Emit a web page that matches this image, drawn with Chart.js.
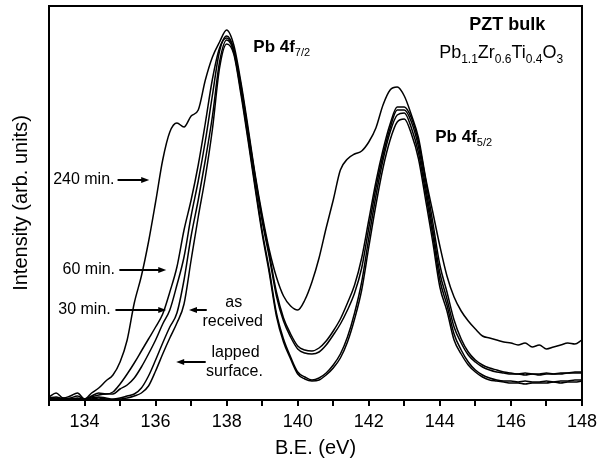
<!DOCTYPE html>
<html>
<head>
<meta charset="utf-8">
<script src="https://cdn.jsdelivr.net/npm/chart.js@4/dist/chart.umd.min.js"></script>
<style>
html, body { margin: 0; padding: 0; background: #fff; }
</style>
</head>
<body>
<canvas id="xps" width="602" height="462"></canvas>
<script>
var FONT = '"Liberation Sans", Arial, Helvetica, sans-serif';

// binding energy grid (eV)
var bindingEnergy = [
	133.0, 133.2, 133.4, 133.6, 133.8, 134.0, 134.2, 134.4, 134.6, 134.8,
	135.0, 135.2, 135.4, 135.6, 135.8, 136.0, 136.2, 136.4, 136.6, 136.8,
	137.0, 137.2, 137.4, 137.6, 137.8, 138.0, 138.2, 138.4, 138.6, 138.8,
	139.0, 139.2, 139.4, 139.6, 139.8, 140.0, 140.2, 140.4, 140.6, 140.8,
	141.0, 141.2, 141.4, 141.6, 141.8, 142.0, 142.2, 142.4, 142.6, 142.8,
	143.0, 143.2, 143.4, 143.6, 143.8, 144.0, 144.2, 144.4, 144.6, 144.8,
	145.0, 145.2, 145.4, 145.6, 145.8, 146.0, 146.2, 146.4, 146.6, 146.8,
	147.0, 147.2, 147.4, 147.6, 147.8, 148.0
];

// intensities (arb. units)
var sputter240 = [
	3, 7, 2, 4, 7, 1, 7, 12, 19, 25,
	38, 60, 97, 124, 158, 198, 240, 268, 277, 273,
	284, 290, 320, 343, 358, 370, 355, 318, 273, 226,
	185, 150, 123, 104, 94, 90, 100, 118, 142, 172,
	200, 230, 241, 246, 249, 258, 272, 295, 310, 313,
	304, 285, 262, 222, 188, 154, 124, 103, 89, 79,
	71, 64, 62, 60, 58, 57, 55, 57, 53, 55,
	51, 53, 55, 57, 56, 60
];
var sputter60 = [
	2, 3, 1, 2, 4, 1, 4, 7, 6, 8,
	16, 26, 37, 49, 61, 73, 86, 108, 133, 170,
	200, 235, 277, 321, 352, 362, 350, 315, 270, 224,
	182, 146, 108, 82, 66, 54, 50, 49, 52, 59,
	69, 81, 97, 115, 142, 180, 218, 250, 276, 293,
	293, 282, 258, 220, 178, 135, 108, 80, 61, 48,
	40, 35, 32, 30, 28, 27, 26, 27, 26, 26,
	27, 26, 27, 27, 28, 28
];
var sputter30 = [
	1, 2, 1, 1, 2, 0, 3, 5, 6, 6,
	11, 15, 22, 33, 46, 60, 76, 90, 115, 143,
	184, 219, 259, 305, 349, 364, 351, 313, 268, 222,
	179, 143, 104, 79, 63, 51, 47, 46, 48, 55,
	65, 76, 90, 107, 132, 172, 212, 245, 272, 290,
	290, 278, 253, 213, 171, 127, 101, 73, 57, 45,
	38, 33, 30, 28, 27, 26, 26, 25, 26, 25,
	26, 26, 26, 27, 27, 27
];
var asReceived = [
	1, 1, 2, 1, 1, 1, 2, 3, 2, 1,
	2, 4, 6, 12, 24, 40, 57, 73, 87, 120,
	164, 200, 240, 284, 338, 360, 348, 309, 263, 215,
	169, 130, 87, 61, 43, 28, 23, 20, 22, 27,
	35, 46, 63, 87, 118, 162, 204, 240, 268, 285,
	287, 272, 247, 207, 165, 120, 95, 66, 50, 38,
	30, 25, 22, 20, 19, 19, 18, 19, 18, 18,
	19, 18, 19, 19, 20, 20
];
var lappedSurface = [
	0, 1, 1, 0, 1, 0, 1, 2, 1, 0,
	1, 2, 4, 7, 14, 29, 46, 62, 77, 96,
	140, 183, 223, 271, 332, 356, 346, 306, 260, 212,
	166, 127, 84, 58, 41, 26, 21, 19, 20, 25,
	32, 42, 58, 81, 110, 153, 195, 232, 260, 278,
	281, 266, 241, 200, 158, 113, 89, 60, 46, 35,
	28, 23, 20, 19, 18, 17, 17, 16, 17, 17,
	17, 18, 17, 18, 18, 19
];

var seriesNames = ['240 min.', '60 min.', '30 min.', 'as received', 'lapped surface.'];
var seriesValues = [sputter240, sputter60, sputter30, asReceived, lappedSurface];

// annotation texts, in data units (eV, intensity)
var noteLabels = [
	{ text: '240 min.', x: 133.98, y: 220 },
	{ text: '60 min.', x: 134.12, y: 130 },
	{ text: '30 min.', x: 134.0, y: 90 },
	{ text: 'as', x: 138.2, y: 97 },
	{ text: 'received', x: 138.17, y: 78 },
	{ text: 'lapped', x: 138.25, y: 47 },
	{ text: 'surface.', x: 138.22, y: 28 }
];
var noteArrows = [
	{ from: [134.93, 220], to: [135.82, 220] },
	{ from: [134.98, 130], to: [136.30, 130] },
	{ from: [134.87, 90], to: [136.30, 90] },
	{ from: [137.44, 90], to: [136.94, 90] },
	{ from: [137.41, 38], to: [136.58, 38] }
];
var peakLabels = [
	{ x: 138.75, y: 353, size: 17, weight: 'bold', parts: [{ t: 'Pb 4f' }, { t: '7/2', sub: true }] },
	{ x: 143.87, y: 263, size: 17, weight: 'bold', parts: [{ t: 'Pb 4f' }, { t: '5/2', sub: true }] },
	{ x: 143.98, y: 347, size: 18, weight: 'normal', parts: [
		{ t: 'Pb' }, { t: '1.1', sub: true }, { t: 'Zr' }, { t: '0.6', sub: true },
		{ t: 'Ti' }, { t: '0.4', sub: true }, { t: 'O' }, { t: '3', sub: true }] }
];
var sampleTitle = { text: 'PZT bulk', x: 145.9, y: 375 };

function drawRich(ctx, item, px, py) {
	var cx = px;
	item.parts.forEach(function(p) {
		var sz = p.sub ? Math.round(item.size * 0.64) : item.size;
		ctx.font = (p.sub ? 'normal' : item.weight) + ' ' + sz + 'px ' + FONT;
		ctx.fillText(p.t, cx, py + (p.sub ? item.size * 0.36 : 0));
		cx += ctx.measureText(p.t).width;
	});
}

var notesPlugin = {
	id: 'notes',
	afterDatasetsDraw: function(chart) {
		var ctx = chart.ctx, xs = chart.scales.x, ys = chart.scales.y, a = chart.chartArea;
		ctx.save();
		ctx.fillStyle = '#000';
		ctx.strokeStyle = '#000';

		ctx.textAlign = 'center';
		ctx.textBaseline = 'middle';
		ctx.font = '16px ' + FONT;
		noteLabels.forEach(function(n) {
			ctx.fillText(n.text, xs.getPixelForValue(n.x), ys.getPixelForValue(n.y));
		});

		ctx.lineWidth = 2;
		noteArrows.forEach(function(ar) {
			var x1 = xs.getPixelForValue(ar.from[0]), y1 = ys.getPixelForValue(ar.from[1]);
			var x2 = xs.getPixelForValue(ar.to[0]), y2 = ys.getPixelForValue(ar.to[1]);
			var dir = x2 > x1 ? 1 : -1;
			ctx.beginPath();
			ctx.moveTo(x1, y1);
			ctx.lineTo(x2 - dir * 5, y2);
			ctx.stroke();
			ctx.beginPath();
			ctx.moveTo(x2, y2);
			ctx.lineTo(x2 - dir * 8, y2 - 3);
			ctx.lineTo(x2 - dir * 8, y2 + 3);
			ctx.closePath();
			ctx.fill();
		});

		ctx.textAlign = 'left';
		peakLabels.forEach(function(p) {
			drawRich(ctx, p, xs.getPixelForValue(p.x), ys.getPixelForValue(p.y));
		});

		ctx.textAlign = 'center';
		ctx.font = 'bold 18px ' + FONT;
		ctx.fillText(sampleTitle.text, xs.getPixelForValue(sampleTitle.x), ys.getPixelForValue(sampleTitle.y));

		// frame round the plot
		ctx.lineWidth = 2;
		ctx.strokeRect(a.left, a.top, a.right - a.left, a.bottom - a.top);
		ctx.restore();
	}
};

new Chart(document.getElementById('xps'), {
	type: 'line',
	data: {
		datasets: seriesValues.map(function(vals, i) {
			return {
				label: seriesNames[i],
				data: vals.map(function(v, j) { return { x: bindingEnergy[j], y: v }; }),
				borderColor: '#000',
				borderWidth: 1.5,
				pointRadius: 0,
				fill: false,
				cubicInterpolationMode: 'monotone'
			};
		})
	},
	options: {
		responsive: false,
		animation: false,
		layout: { padding: { left: 0, right: 16, top: 6, bottom: 0 } },
		plugins: {
			legend: { display: false },
			tooltip: { enabled: false }
		},
		scales: {
			x: {
				type: 'linear',
				min: 133,
				max: 148,
				border: { display: false },
				grid: { drawOnChartArea: false, drawTicks: true, tickLength: 6, color: '#000', lineWidth: 2 },
				ticks: {
					stepSize: 1,
					autoSkip: false,
					maxRotation: 0,
					color: '#000',
					padding: 5,
					font: { family: FONT, size: 18 },
					callback: function(v) { return v % 2 === 0 ? String(v) : ''; }
				},
				title: {
					display: true,
					text: 'B.E. (eV)',
					color: '#000',
					font: { family: FONT, size: 20 },
					padding: { top: 0, bottom: 2 }
				},
				afterFit: function(s) { s.height = 62; }
			},
			y: {
				min: 0,
				max: 394,
				border: { display: false },
				grid: { display: false },
				ticks: { display: false },
				title: {
					display: true,
					text: 'Intensity (arb. units)',
					color: '#000',
					font: { family: FONT, size: 20 },
					padding: { top: 9, bottom: 0 }
				},
				afterFit: function(s) { s.width = 49; }
			}
		}
	},
	plugins: [notesPlugin]
});
</script>
</body>
</html>
